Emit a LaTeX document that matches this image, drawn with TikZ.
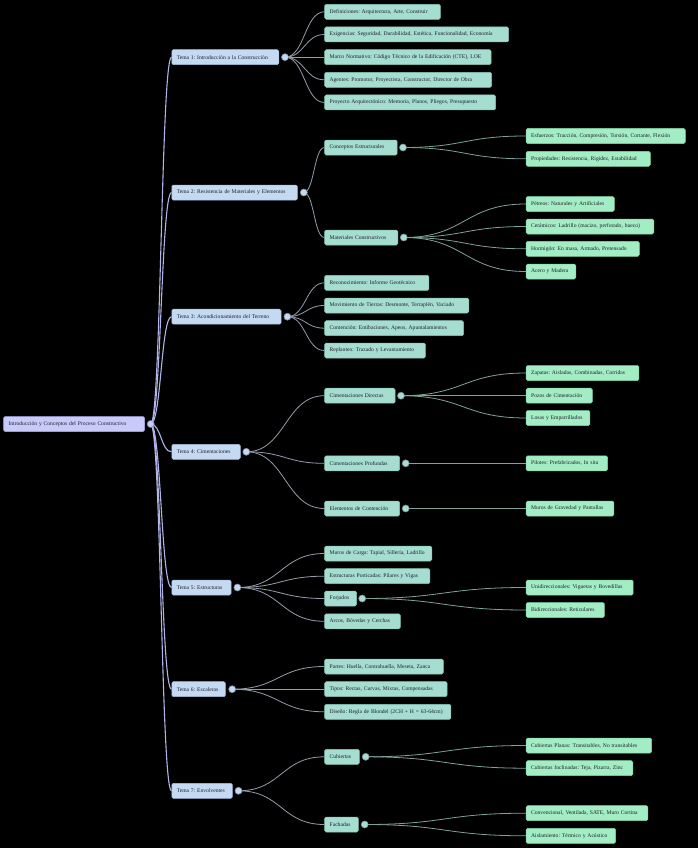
\documentclass[tikz,border=0pt]{standalone}
\usepackage{fontspec}
\setmainfont{Liberation Serif}
\usetikzlibrary{calc}
\frenchspacing
\definecolor{txt}{HTML}{1E1E28}
\definecolor{rootfill}{HTML}{C8CAFA}
\definecolor{rootdraw}{HTML}{A9ACEC}
\definecolor{lafill}{HTML}{C4D9F2}
\definecolor{ladraw}{HTML}{A2BCE0}
\definecolor{lbfill}{HTML}{A5DDD1}
\definecolor{lbdraw}{HTML}{86C4B6}
\definecolor{lcfill}{HTML}{A3EDC5}
\definecolor{lcdraw}{HTML}{82D4A8}
\definecolor{rlink}{HTML}{B0B4E6}
\definecolor{alink}{HTML}{959CAC}
\definecolor{blink}{HTML}{7FA39A}
\definecolor{dotdraw}{HTML}{7F8C9C}
\tikzset{
  mmbox/.style={anchor=west, rounded corners=1.5pt, minimum height=15pt,
    inner xsep=5pt, inner ysep=0pt, font=\fontsize{5.6}{6}\selectfont,
    text=txt, align=left, line width=0.5pt},
  rootbox/.style={mmbox, fill=rootfill, draw=rootdraw},
  labox/.style={mmbox, fill=lafill, draw=ladraw},
  lbbox/.style={mmbox, fill=lbfill, draw=lbdraw},
  lcbox/.style={mmbox, fill=lcfill, draw=lcdraw},
  mmdot/.style={circle, minimum size=7pt, inner sep=0pt, line width=0.6pt, draw=dotdraw},
  rootlink/.style={draw=rlink, line width=1.1pt},
  alinkst/.style={draw=alink, line width=0.8pt},
  blinkst/.style={draw=blink, line width=0.8pt}
}
\newcommand\bx[6]{\pgfmathsetmacro\bxw{#5-10}\node[#1,text width=\bxw pt] (#2) at (#3,#4) {\mbox{#6}};}
\newcommand\lk[3]{\draw[#1] let \p1=(#2), \p2=(#3.west) in (\p1) .. controls ({0.5*\x1+0.5*\x2},\y1) and ({0.5*\x1+0.5*\x2},\y2) .. (\p2);}
\begin{document}
\begin{tikzpicture}[x=1pt,y=-1pt]
\fill[black] (0,0) rectangle (698,848);
\useasboundingbox (0,0) rectangle (698,848);

% root
\bx{rootbox}{root}{3.3}{424}{141}{Introducción y Conceptos del Proceso Constructivo}
% level 1
\bx{labox}{t1}{171.5}{57.2}{107}{Tema 1: Introducción a la Construcción}
\bx{labox}{t2}{171.5}{192.6}{125.7}{Tema 2: Resistencia de Materiales y Elementos}
\bx{labox}{t3}{171.5}{316.7}{109.3}{Tema 3: Acondicionamiento del Terreno}
\bx{labox}{t4}{171.5}{451.8}{68.5}{Tema 4: Cimentaciones}
\bx{labox}{t5}{171.5}{587.5}{59.3}{Tema 5: Estructuras}
\bx{labox}{t6}{171.5}{689.2}{53.7}{Tema 6: Escaleras}
\bx{labox}{t7}{171.5}{790.8}{60.7}{Tema 7: Envolventes}
% level 2
\bx{lbbox}{a1}{324.4}{11.8}{115.7}{Definiciones: Arquitectura, Arte, Construir}
\bx{lbbox}{a2}{324.4}{34.5}{184}{Exigencias: Seguridad, Durabilidad, Estética, Funcionalidad, Economía}
\bx{lbbox}{a3}{324.4}{57.2}{166.4}{Marco Normativo: Código Técnico de la Edificación (CTE), LOE}
\bx{lbbox}{a4}{324.4}{79.8}{167}{Agentes: Promotor, Proyectista, Constructor, Director de Obra}
\bx{lbbox}{a5}{324.4}{102.5}{171}{Proyecto Arquitectónico: Memoria, Planos, Pliegos, Presupuesto}
\bx{lbbox}{b1}{324.4}{147.5}{72.5}{Conceptos Estructurales}
\bx{lbbox}{b2}{324.4}{237.5}{73.2}{Materiales Constructivos}
\bx{lbbox}{c1}{324.4}{282.8}{104.3}{Reconocimiento: Informe Geotécnico}
\bx{lbbox}{c2}{324.4}{305.5}{144.1}{Movimiento de Tierras: Desmonte, Terraplén, Vaciado}
\bx{lbbox}{c3}{324.4}{328.2}{138.9}{Contención: Entibaciones, Apeos, Apuntalamientos}
\bx{lbbox}{c4}{324.4}{350.5}{100.8}{Replanteo: Trazado y Levantamiento}
\bx{lbbox}{d1}{324.4}{395.7}{70.4}{Cimentaciones Directas}
\bx{lbbox}{d2}{324.4}{463.3}{75}{Cimentaciones Profundas}
\bx{lbbox}{d3}{324.4}{508.5}{75}{Elementos de Contención}
\bx{lbbox}{e1}{324.4}{553.5}{107.1}{Muros de Carga: Tapial, Sillería, Ladrillo}
\bx{lbbox}{e2}{324.4}{576.2}{105.3}{Estructuras Porticadas: Pilares y Vigas}
\bx{lbbox}{e3}{324.4}{598.5}{31.9}{Forjados}
\bx{lbbox}{e4}{324.4}{621.3}{75.6}{Arcos, Bóvedas y Cerchas}
\bx{lbbox}{f1}{324.4}{666.5}{118.6}{Partes: Huella, Contrahuella, Meseta, Zanca}
\bx{lbbox}{f2}{324.4}{689.2}{122.5}{Tipos: Rectas, Curvas, Mixtas, Compensadas}
\bx{lbbox}{f3}{324.4}{711.8}{126.3}{Diseño: Regla de Blondel (2CH + H = 63-64cm)}
\bx{lbbox}{g1}{324.4}{756.8}{34.7}{Cubiertas}
\bx{lbbox}{g2}{324.4}{824.5}{33.6}{Fachadas}
% level 3
\bx{lcbox}{b11}{525.9}{136}{159.1}{Esfuerzos: Tracción, Compresión, Torsión, Cortante, Flexión}
\bx{lcbox}{b12}{525.9}{158.8}{124.1}{Propiedades: Resistencia, Rigidez, Estabilidad}
\bx{lcbox}{b21}{525.9}{204}{88.1}{Pétreos: Naturales y Artificiales}
\bx{lcbox}{b22}{525.9}{226.5}{127.6}{Cerámicos: Ladrillo (macizo, perforado, hueco)}
\bx{lcbox}{b23}{525.9}{248.8}{113.1}{Hormigón: En masa, Armado, Pretensado}
\bx{lcbox}{b24}{525.9}{271.5}{49.6}{Acero y Madera}
\bx{lcbox}{d11}{525.9}{373}{112.8}{Zapatas: Aisladas, Combinadas, Corridas}
\bx{lcbox}{d12}{525.9}{395.7}{66.1}{Pozos de Cimentación}
\bx{lcbox}{d13}{525.9}{418}{63.8}{Losas y Emparrillados}
\bx{lcbox}{d21}{525.9}{463.3}{81.4}{Pilotes: Prefabricados, In situ}
\bx{lcbox}{d31}{525.9}{508.5}{87.8}{Muros de Gravedad y Pantallas}
\bx{lcbox}{e31}{525.9}{587.5}{107}{Unidireccionales: Viguetas y Bovedillas}
\bx{lcbox}{e32}{525.9}{610}{78.3}{Bidireccionales: Reticulares}
\bx{lcbox}{g11}{525.9}{745.5}{125.5}{Cubiertas Planas: Transitables, No transitables}
\bx{lcbox}{g12}{525.9}{768.2}{106.6}{Cubiertas Inclinadas: Teja, Pizarra, Zinc}
\bx{lcbox}{g21}{525.9}{813.2}{121.7}{Convencional, Ventilada, SATE, Muro Cortina}
\bx{lcbox}{g22}{525.9}{835.8}{89.5}{Aislamiento: Térmico y Acústico}

% fold-circle positions
\coordinate (k0) at (150.7,424);
\coordinate (k1) at (285,57.2);
\coordinate (k2) at (303.8,192.5);
\coordinate (k3) at (287.4,316.7);
\coordinate (k4) at (246.3,451.8);
\coordinate (k5) at (237.4,587.5);
\coordinate (k6) at (232.2,689.2);
\coordinate (k7) at (238.5,790.8);
\coordinate (kb1) at (403,147.5);
\coordinate (kb2) at (403.8,237.5);
\coordinate (kd1) at (401,395.7);
\coordinate (kd2) at (405.7,463.3);
\coordinate (kd3) at (405.7,508.5);
\coordinate (ke3) at (362.2,598.5);
\coordinate (kg1) at (365.7,756.8);
\coordinate (kg2) at (364.7,824.5);

% links
\foreach \t in {t1,t2,t3,t4,t5,t6,t7}{\lk{rootlink}{k0}{\t}}
\foreach \c in {a1,a2,a3,a4,a5}{\lk{alinkst}{k1}{\c}}
\foreach \c in {b1,b2}{\lk{alinkst}{k2}{\c}}
\foreach \c in {c1,c2,c3,c4}{\lk{alinkst}{k3}{\c}}
\foreach \c in {d1,d2,d3}{\lk{alinkst}{k4}{\c}}
\foreach \c in {e1,e2,e3,e4}{\lk{alinkst}{k5}{\c}}
\foreach \c in {f1,f2,f3}{\lk{alinkst}{k6}{\c}}
\foreach \c in {g1,g2}{\lk{alinkst}{k7}{\c}}
\foreach \c in {b11,b12}{\lk{blinkst}{kb1}{\c}}
\foreach \c in {b21,b22,b23,b24}{\lk{blinkst}{kb2}{\c}}
\foreach \c in {d11,d12,d13}{\lk{blinkst}{kd1}{\c}}
\lk{blinkst}{kd2}{d21}
\lk{blinkst}{kd3}{d31}
\foreach \c in {e31,e32}{\lk{blinkst}{ke3}{\c}}
\foreach \c in {g11,g12}{\lk{blinkst}{kg1}{\c}}
\foreach \c in {g21,g22}{\lk{blinkst}{kg2}{\c}}

% fold circles
\node[mmdot, fill=rootfill] (dk0) at (k0) {};
\foreach \k in {k1,k2,k3,k4,k5,k6,k7}{\node[mmdot, fill=lafill] (d\k) at (\k) {};}
\foreach \k in {kb1,kb2,kd1,kd2,kd3,ke3,kg1,kg2}{\node[mmdot, fill=lbfill] (d\k) at (\k) {};}
\end{tikzpicture}
\end{document}
